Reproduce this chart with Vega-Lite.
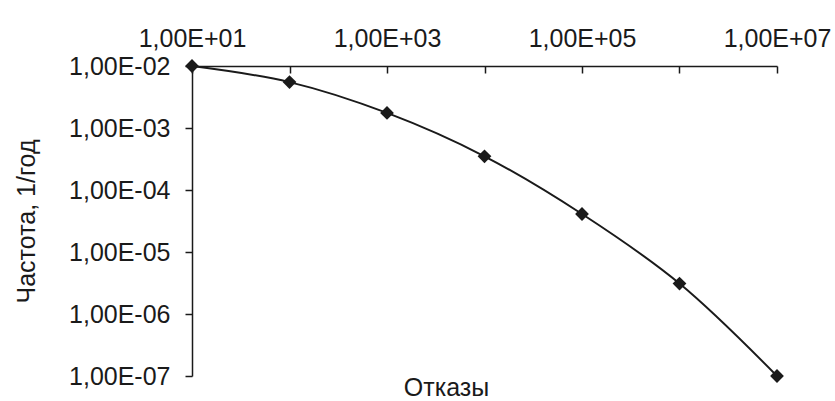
{
  "$schema": "https://vega.github.io/schema/vega-lite/v6.json",
  "width": 585,
  "height": 310,
  "autosize": {"type": "none"},
  "padding": {"left": 192, "top": 66, "right": 58, "bottom": 25},
  "background": "white",
  "config": {
    "view": {"stroke": null},
    "font": "Liberation Sans",
    "axis": {"grid": false, "domainColor": "#1a1a1a", "tickColor": "#1a1a1a", "labelColor": "#1a1a1a", "titleColor": "#1a1a1a", "domainWidth": 1.5, "tickWidth": 1.5, "labelFont": "Liberation Sans", "titleFont": "Liberation Sans", "titleFontWeight": "normal"}
  },
  "data": {
    "values": [
      {"otkazy": 10, "chastota": 0.01},
      {"otkazy": 100, "chastota": 0.0055},
      {"otkazy": 1000, "chastota": 0.00175},
      {"otkazy": 10000, "chastota": 0.00035},
      {"otkazy": 100000, "chastota": 0.000041},
      {"otkazy": 1000000, "chastota": 0.0000031},
      {"otkazy": 10000000, "chastota": 0.0000001}
    ]
  },
  "resolve": {"axis": {"x": "independent"}},
  "layer": [
    {
      "mark": {"type": "line", "color": "#1a1a1a", "strokeWidth": 2, "interpolate": "catmull-rom"},
      "encoding": {
        "x": {
          "field": "otkazy", "type": "quantitative",
          "scale": {"type": "log", "domain": [10, 10000000], "nice": false},
          "axis": {
            "orient": "top", "title": null,
            "values": [10, 100, 1000, 10000, 100000, 1000000, 10000000],
            "labelExpr": "round(log(datum.value)/LN10) % 2 == 1 ? '1,00E+0' + round(log(datum.value)/LN10) : ''",
            "tickSize": -7, "labelPadding": 22, "labelFontSize": 25,
            "labelFlush": false, "labelOverlap": false, "labelBound": false
          }
        },
        "y": {
          "field": "chastota", "type": "quantitative",
          "scale": {"type": "log", "domain": [0.0000001, 0.01], "nice": false},
          "axis": {
            "title": "Частота, 1/год", "titleFontSize": 25, "titlePadding": 29,
            "values": [0.01, 0.001, 0.0001, 0.00001, 0.000001, 0.0000001],
            "labelExpr": "'1,00E-0' + round(-log(datum.value)/LN10)",
            "tickSize": 7, "labelPadding": 15, "labelFontSize": 25,
            "labelFlush": false, "labelOverlap": false, "labelBound": false
          }
        }
      }
    },
    {
      "mark": {"type": "point", "shape": "diamond", "filled": true, "color": "#1a1a1a", "size": 190, "opacity": 1},
      "encoding": {
        "x": {
          "field": "otkazy", "type": "quantitative",
          "axis": {
            "orient": "bottom", "title": "Отказы", "titleFontSize": 25,
            "domain": false, "ticks": false, "labels": false,
            "titlePadding": -1, "titleX": 254
          }
        },
        "y": {"field": "chastota", "type": "quantitative"}
      }
    }
  ]
}
